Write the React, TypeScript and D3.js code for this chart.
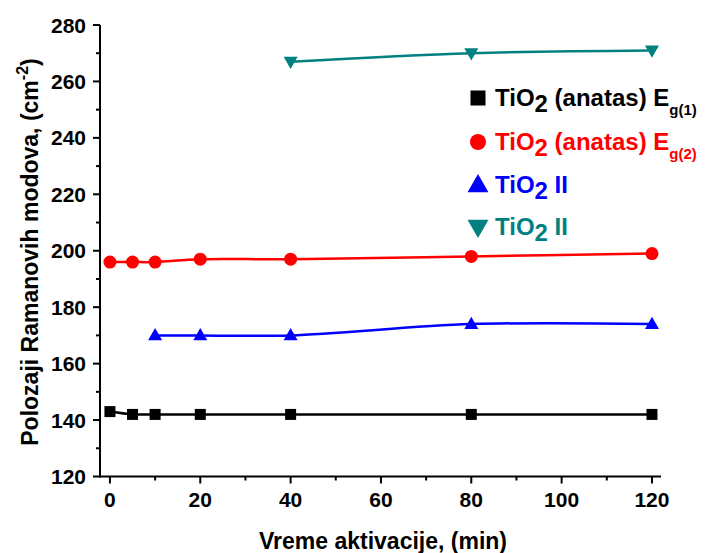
import React from "react";
import * as d3 from "d3";

const W = 719;
const H = 553;

const xBlack = [0, 5, 10, 20, 40, 80, 120];
const yBlack = [143, 142, 142, 142, 142, 142, 142];
const xRed = [0, 5, 10, 20, 40, 80, 120];
const yRed = [196, 196, 196, 197, 197, 198, 199];
const xBlue = [10, 20, 40, 80, 120];
const yBlue = [170, 170, 170, 174, 174];
const xTeal = [40, 80, 120];
const yTeal = [267, 270, 271];

const xTicks = [0, 20, 40, 60, 80, 100, 120];
const yTicks = [120, 140, 160, 180, 200, 220, 240, 260, 280];

const x = d3.scaleLinear().domain([-2.2, 122]).range([100, 661]);
const y = d3.scaleLinear().domain([120, 280]).range([476.5, 25]);

const FONT = "'Liberation Sans', Arial, sans-serif";

function toPts(xs: number[], ys: number[]): [number, number][] {
  return xs.map((v, i) => [x(v), y(ys[i])]);
}

const line = d3.line<[number, number]>().curve(d3.curveCatmullRom.alpha(0.5));

function Square({ cx, cy, s, fill }: any) {
  return <rect x={cx - s / 2} y={cy - s / 2} width={s} height={s} fill={fill} />;
}
function Circle({ cx, cy, r, fill }: any) {
  return <circle cx={cx} cy={cy} r={r} fill={fill} />;
}
function TriUp({ cx, cy, s, fill }: any) {
  const h = s * 0.87;
  return <path d={`M${cx},${cy - h * 0.6}L${cx + s / 2},${cy + h * 0.4}L${cx - s / 2},${cy + h * 0.4}Z`} fill={fill} />;
}
function TriDown({ cx, cy, s, fill }: any) {
  const h = s * 0.87;
  return <path d={`M${cx},${cy + h * 0.6}L${cx + s / 2},${cy - h * 0.4}L${cx - s / 2},${cy - h * 0.4}Z`} fill={fill} />;
}

export default function App() {
  const black = toPts(xBlack, yBlack);
  const red = toPts(xRed, yRed);
  const blue = toPts(xBlue, yBlue);
  const teal = toPts(xTeal, yTeal);

  const xMinor = d3.range(10, 121, 20);
  const yMinor = d3.range(130, 280, 20);

  const legendX = 478;
  const textX = 495;
  const rows = [98, 142, 185, 227];
  const LF = 24;
  const y0 = y(120);

  return (
    <svg width={W} height={H} style={{ position: "absolute", left: 0, top: 0, background: "#fff" }} fontFamily={FONT}>
      <rect width={W} height={H} fill="#fff" />
      {/* axes */}
      <line x1={100} x2={100} y1={y(280)} y2={y0 + 1} stroke="#000" strokeWidth={2} />
      <line x1={99} x2={661} y1={y0} y2={y0} stroke="#000" strokeWidth={2} />
      {yTicks.map((t) => (
        <g key={"yt" + t}>
          <line x1={93} x2={100} y1={y(t)} y2={y(t)} stroke="#000" strokeWidth={2} />
          <text x={86} y={y(t)} dy="0.36em" textAnchor="end" fontSize={21} fontWeight="bold">{t}</text>
        </g>
      ))}
      {yMinor.map((t) => (
        <line key={"ym" + t} x1={96} x2={100} y1={y(t)} y2={y(t)} stroke="#000" strokeWidth={2} />
      ))}
      {xTicks.map((t) => (
        <g key={"xt" + t}>
          <line x1={x(t)} x2={x(t)} y1={y0} y2={y0 + 7} stroke="#000" strokeWidth={2} />
          <text x={x(t)} y={507} textAnchor="middle" fontSize={21} fontWeight="bold">{t}</text>
        </g>
      ))}
      {xMinor.map((t) => (
        <line key={"xm" + t} x1={x(t)} x2={x(t)} y1={y0} y2={y0 + 4} stroke="#000" strokeWidth={2} />
      ))}
      {/* axis titles */}
      <text x={383} y={549} textAnchor="middle" fontSize={23} fontWeight="bold">Vreme aktivacije, (min)</text>
      <text transform={`translate(38,252) rotate(-90)`} textAnchor="middle" fontSize={23} fontWeight="bold">
        Polozaji Ramanovih modova, (cm<tspan dy={-10} fontSize={16}>-2</tspan><tspan dy={10}>)</tspan>
      </text>

      {/* lines */}
      <path d={line(black) || ""} fill="none" stroke="#000" strokeWidth={2.5} />
      <path d={line(red) || ""} fill="none" stroke="#ff0000" strokeWidth={2.5} />
      <path d={line(blue) || ""} fill="none" stroke="#0000ff" strokeWidth={2.5} />
      <path d={line(teal) || ""} fill="none" stroke="#008080" strokeWidth={2.5} />

      {black.map(([cx, cy], i) => <Square key={"b" + i} cx={cx} cy={cy} s={11} fill="#000" />)}
      {red.map(([cx, cy], i) => <Circle key={"r" + i} cx={cx} cy={cy} r={6.5} fill="#ff0000" />)}
      {blue.map(([cx, cy], i) => <TriUp key={"u" + i} cx={cx} cy={cy} s={14} fill="#0000ff" />)}
      {teal.map(([cx, cy], i) => <TriDown key={"d" + i} cx={cx} cy={cy} s={14} fill="#008080" />)}

      {/* legend */}
      <Square cx={legendX} cy={rows[0]} s={15} fill="#000" />
      <text x={textX} y={rows[0] + 8} fontSize={LF} fontWeight="bold" fill="#000">
        TiO<tspan dy={6}>2</tspan><tspan dy={-6}> (anatas) E</tspan><tspan dy={9} fontSize={15}>g(1)</tspan>
      </text>
      <Circle cx={legendX} cy={rows[1]} r={8} fill="#ff0000" />
      <text x={textX} y={rows[1] + 8} fontSize={LF} fontWeight="bold" fill="#ff0000">
        TiO<tspan dy={6}>2</tspan><tspan dy={-6}> (anatas) E</tspan><tspan dy={9} fontSize={15}>g(2)</tspan>
      </text>
      <TriUp cx={legendX} cy={rows[2]} s={21} fill="#0000ff" />
      <text x={textX} y={rows[2] + 8} fontSize={LF} fontWeight="bold" fill="#0000ff">
        TiO<tspan dy={6}>2</tspan><tspan dy={-6}> II</tspan>
      </text>
      <TriDown cx={legendX} cy={rows[3]} s={21} fill="#008080" />
      <text x={textX} y={rows[3] + 8} fontSize={LF} fontWeight="bold" fill="#008080">
        TiO<tspan dy={6}>2</tspan><tspan dy={-6}> II</tspan>
      </text>
    </svg>
  );
}
